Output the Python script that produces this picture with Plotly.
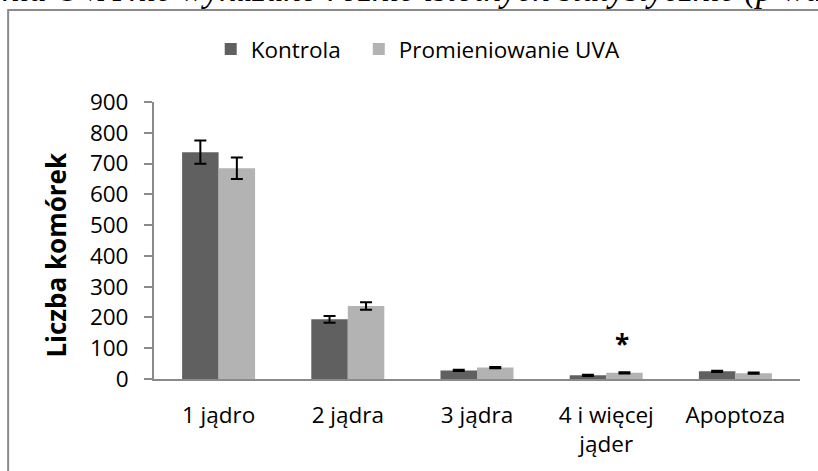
import plotly.graph_objects as go

categories = ["1 jądro", "2 jądra", "3 jądra", "4 i więcej<br>jąder", "Apoptoza"]
kontrola = [737, 194, 28, 12, 25]
kontrola_err = [38, 11, 2, 2, 2]
uva = [685, 237, 37, 20, 19]
uva_err = [35, 12, 2, 2, 2]
y_ticks = [0, 100, 200, 300, 400, 500, 600, 700, 800, 900]
sig_category = "4 i więcej<br>jąder"
sig_y = 113

W, H = 818, 471
ml, mr, mt, mb = 154.3, 18, 101.7, 91.7
pw, ph = W - ml - mr, H - mt - mb

def px_x(px):
    return (px - ml) / pw

def px_y(py):
    return (H - mb - py) / ph

FONT = "Open Sans"
FS = 22.5

fig = go.Figure()
fig.add_trace(go.Bar(
    name="Kontrola", x=categories, y=kontrola, legend="legend",
    marker=dict(color="#606060", line=dict(width=0)),
    error_y=dict(type="data", array=kontrola_err, color="black", thickness=2, width=6),
))
fig.add_trace(go.Bar(
    name="Promieniowanie UVA", x=categories, y=uva, legend="legend2",
    marker=dict(color="#b3b3b3", line=dict(width=0)),
    error_y=dict(type="data", array=uva_err, color="black", thickness=2, width=6),
))

fig.add_annotation(
    x=sig_category, y=sig_y, xref="x", yref="y", text="<b>*</b>", showarrow=False,
    xshift=16, font=dict(family=FONT, size=26, color="black"), yanchor="middle",
)

# y-axis title
fig.add_annotation(
    x=px_x(56), y=px_y(255), xref="paper", yref="paper", xanchor="center", yanchor="middle",
    text="<b>Liczba komórek</b>", textangle=-90, showarrow=False,
    font=dict(family=FONT, size=26, color="black"),
)

# cropped caption text at the very top (mostly above the visible area)
fig.add_annotation(
    x=px_x(0), y=px_y(-11.5), xref="paper", yref="paper", xanchor="left", yanchor="middle",
    text="<i>nia UVA nie wykazano różnic istotnych statystycznie (p wartość</i>",
    showarrow=False, font=dict(family="Liberation Serif", size=35, color="black"),
)

# outer frame (right/bottom off-canvas)
fig.add_shape(
    type="rect", xref="paper", yref="paper",
    x0=px_x(8.5), y0=px_y(490), x1=px_x(840), y1=px_y(9.5),
    line=dict(color="#8a8a8a", width=2), fillcolor="rgba(0,0,0,0)", layer="below",
)

legend_common = dict(
    orientation="h", xanchor="left", y=px_y(49), yanchor="middle",
    font=dict(family=FONT, size=FS, color="black"),
    bgcolor="rgba(0,0,0,0)", itemclick=False, itemdoubleclick=False,
)

fig.update_layout(
    width=W, height=H,
    margin=dict(l=ml, r=mr, t=mt, b=mb, pad=0),
    paper_bgcolor="white", plot_bgcolor="white",
    barmode="group", bargap=0.435, bargroupgap=0,
    font=dict(family=FONT, size=FS, color="black"),
    showlegend=True,
    legend=dict(x=px_x(211), **legend_common),
    legend2=dict(x=px_x(359), **legend_common),
    xaxis=dict(
        showline=True, linecolor="#8a8a8a", linewidth=2, ticks="",
        showgrid=False, zeroline=False, tickfont=dict(size=FS), ticklabelstandoff=15,
    ),
    yaxis=dict(
        range=[0, 900], tickvals=y_ticks, showline=True, linecolor="#8a8a8a", linewidth=2,
        ticks="outside", ticklen=8, tickcolor="#8a8a8a", tickwidth=2,
        showgrid=False, zeroline=False, tickfont=dict(size=FS), ticklabelstandoff=11,
    ),
)

fig.write_html(
    "out.html",
    config={"displayModeBar": False},
    post_script="document.body.style.margin='0';",
)
